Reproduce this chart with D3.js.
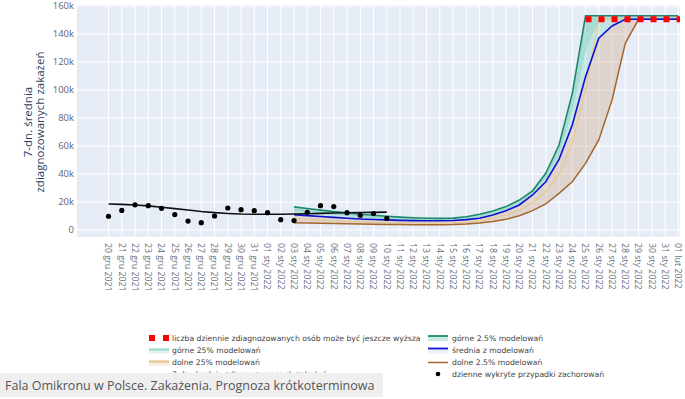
<!DOCTYPE html>
<html><head><meta charset="utf-8">
<script src="https://cdn.jsdelivr.net/npm/d3@7"></script>
<style>body{margin:0;background:#fff}svg{display:block}</style>
</head><body>
<svg id="c" width="685" height="399"></svg>
<script>
// ---------- data ----------
const startDate = "2021-12-20";
const endDate = "2022-02-01";
const monthNames = ["sty","lut","mar","kwi","maj","cze","lip","sie","wrz","paź","lis","gru"];
const yTicks = [0, 20000, 40000, 60000, 80000, 100000, 120000, 140000, 160000];
const yTickLabels = ["0","20k","40k","60k","80k","100k","120k","140k","160k"];

// observed (20 gru 2021 .. 10 sty 2022)
const dailyCases = [9800,14000,18000,17400,15500,11000,6400,5200,10000,15700,14500,13800,12400,7400,6700,12600,17400,16700,12400,10500,11700,8300];
const avg7 = [18600,18300,17900,17200,16200,15300,14300,13200,12400,11800,11400,11300,11300,11300,11400,11600,11900,12100,12300,12500,12600,12800];

// model (03 sty 2022 .. 01 lut 2022)
const modelStart = "2022-01-03";
const upper975 = [16500,15300,14200,13200,12200,11300,10500,9800,9200,8700,8400,8300,8500,9500,11200,13600,16700,21400,28000,40500,60700,97600,153000,153000,153000,153000,153000,153000,153000,153000];
const upper75 = [14000,13000,12000,11300,10500,9700,9000,8500,8000,7600,7400,7400,7600,8400,9600,12000,15000,19500,26500,37500,55000,87000,130000,150500,150500,150500,150500,150500,150500,150500];
const meanModel = [11000,10300,9600,9000,8400,7900,7500,7200,6900,6700,6600,6600,6800,7400,8400,10700,13800,17900,25000,34500,50500,75000,109500,137000,145700,150500,150500,150500,150500,150500];
const lower25 = [8000,7500,7000,6600,6200,5800,5500,5300,5100,5000,4900,4900,5100,5700,6500,8300,10700,14000,19500,27500,40000,62000,100000,150500,150500,150500,150500,150500,150500,150500];
const lower025 = [5200,5000,4800,4600,4400,4200,4100,4000,3900,3800,3800,3800,3900,4300,5000,6000,7600,10200,13800,18600,26200,34500,47600,64300,92900,133300,150500,150500,150500,150500];

// "may be even higher" marker (25 sty .. 01 lut)
const capStart = "2022-01-25";
const capValues = [150500,150500,150500,150500,150500,150500,150500,150500];

const legendCol1 = ["liczba dziennie zdiagnozowanych osób może być jeszcze wyższa","górne 25% modelowań","dolne 25% modelowań","7-dn. średnia zdiagnozowanych zakażeń"];
const legendCol2 = ["górne 2.5% modelowań","średnia z modelowań","dolne 2.5% modelowań","dzienne wykryte przypadki zachorowań"];
const yTitle = ["7-dn. średnia","zdiagnozowanych zakażeń"];
const caption = "Fala Omikronu w Polsce. Zakażenia. Prognoza krótkoterminowa";

// ---------- chart ----------
const parse = d3.utcParse("%Y-%m-%d");
const days = d3.utcDay.range(parse(startDate), d3.utcDay.offset(parse(endDate), 1));
const seq = (s, arr) => arr.map((v, i) => ({d: d3.utcDay.offset(parse(s), i), v}));
const fmt = d => d3.utcFormat("%d")(d) + " " + monthNames[d.getUTCMonth()] + " " + d.getUTCFullYear();

const L = 77, R = 680, T = 5, B = 237;
const DAY = 86400000;
const x = d3.scaleUtc()
  .domain([new Date(+parse(startDate) - 2.38 * DAY), new Date(+parse(endDate) + 0.13 * DAY)])
  .range([L, R]);
const y = d3.scaleLinear().domain([-5000, 160714]).range([B, T]);

const svg = d3.select("#c");
svg.append("defs").append("clipPath").attr("id", "clip")
  .append("rect").attr("x", L).attr("y", T).attr("width", R - L).attr("height", B - T);

svg.append("rect").attr("x", L).attr("y", T).attr("width", R - L).attr("height", B - T).attr("fill", "#e5ecf6");

// grid
const g = svg.append("g");
g.selectAll(".vg").data(days).join("line")
  .attr("x1", d => x(d)).attr("x2", d => x(d)).attr("y1", T).attr("y2", B)
  .attr("stroke", "#fff").attr("stroke-width", 1);
g.selectAll(".hg").data(yTicks).join("line")
  .attr("x1", L).attr("x2", R).attr("y1", d => y(d)).attr("y2", d => y(d))
  .attr("stroke", "#fff").attr("stroke-width", 1);

// y axis labels
svg.append("g").selectAll("text").data(yTicks).join("text")
  .attr("x", L - 3).attr("y", d => y(d)).attr("dy", "0.35em")
  .attr("text-anchor", "end").attr("font-family", "Open Sans, sans-serif").attr("font-size", 9.5)
  .attr("fill", "#5a6478").text((d, i) => yTickLabels[i]);

// x axis labels
svg.append("g").selectAll("text").data(days).join("text")
  .attr("transform", d => `translate(${x(d)},${B + 6}) rotate(90)`)
  .attr("dy", "0.35em").attr("text-anchor", "start")
  .attr("font-family", "Open Sans, sans-serif").attr("font-size", 8.8)
  .attr("fill", "#66707f").text(d => fmt(d));

// y title
const yt = svg.append("g").attr("transform", `translate(0,122) rotate(-90)`);
yt.selectAll("text").data(yTitle).join("text")
  .attr("x", 0).attr("y", (d, i) => 32 + i * 11.5)
  .attr("text-anchor", "middle").attr("font-family", "Open Sans, sans-serif").attr("font-size", 11.5)
  .attr("fill", "#2a3f5f").text(d => d);

// model bands
const plot = svg.append("g").attr("clip-path", "url(#clip)");
const mdates = upper975.map((v, i) => d3.utcDay.offset(parse(modelStart), i));
const band = (hi, lo) => d3.area().x((d, i) => x(mdates[i])).y0((d, i) => y(lo[i])).y1((d, i) => y(hi[i]))(hi);
plot.append("path").attr("d", band(upper975, meanModel)).attr("fill", "rgba(110,205,185,0.28)");
plot.append("path").attr("d", band(upper975, upper75)).attr("fill", "rgba(80,185,165,0.22)");
plot.append("path").attr("d", band(meanModel, lower025)).attr("fill", "rgba(205,170,135,0.35)");

const mline = d3.line().x((d, i) => x(mdates[i])).y(d => y(d));
plot.append("path").attr("d", mline(upper75)).attr("fill", "none").attr("stroke", "#9fdccf").attr("stroke-width", 1.2);
plot.append("path").attr("d", mline(lower25)).attr("fill", "none").attr("stroke", "#e6c891").attr("stroke-width", 1.2);
plot.append("path").attr("d", mline(lower025)).attr("fill", "none").attr("stroke", "#a5662b").attr("stroke-width", 1.5);
plot.append("path").attr("d", mline(meanModel)).attr("fill", "none").attr("stroke", "#1010d0").attr("stroke-width", 1.6);
plot.append("path").attr("d", mline(upper975)).attr("fill", "none").attr("stroke", "#1b8a6b").attr("stroke-width", 1.6);

// observed
const obsLine = d3.line().x(d => x(d.d)).y(d => y(d.v));
plot.append("path").attr("d", obsLine(seq(startDate, avg7))).attr("fill", "none").attr("stroke", "#111").attr("stroke-width", 1.6);
plot.append("g").selectAll("circle").data(seq(startDate, dailyCases)).join("circle")
  .attr("cx", d => x(d.d)).attr("cy", d => y(d.v)).attr("r", 2.6).attr("fill", "#000");

// red dashed cap
const capData = seq(capStart, capValues);
const capExt = capData.concat([{d: new Date(+capData[capData.length - 1].d + DAY), v: capValues[capValues.length - 1]}]);
plot.append("path").attr("d", obsLine(capExt)).attr("fill", "none")
  .attr("stroke", "#ff0000").attr("stroke-width", 6).attr("stroke-dasharray", "6,7");

// legend
const lg = svg.append("g").attr("font-family", "DejaVu Sans, Verdana, sans-serif").attr("font-size", 7.7).attr("fill", "#444");
const ly = [338, 350.5, 362.5, 374];
// col 1
lg.append("line").attr("x1", 149).attr("x2", 170).attr("y1", ly[0]).attr("y2", ly[0])
  .attr("stroke", "#ff0000").attr("stroke-width", 6).attr("stroke-dasharray", "6,8");
lg.append("rect").attr("x", 149).attr("y", ly[1] - 1).attr("width", 20).attr("height", 4).attr("fill", "rgba(160,220,207,0.35)");
lg.append("line").attr("x1", 149).attr("x2", 169).attr("y1", ly[1] - 1).attr("y2", ly[1] - 1).attr("stroke", "#9fdccf").attr("stroke-width", 2.2);
lg.append("rect").attr("x", 149).attr("y", ly[2] - 1).attr("width", 20).attr("height", 4).attr("fill", "rgba(230,200,145,0.35)");
lg.append("line").attr("x1", 149).attr("x2", 169).attr("y1", ly[2] - 1).attr("y2", ly[2] - 1).attr("stroke", "#e6c891").attr("stroke-width", 2.2);
lg.append("line").attr("x1", 149).attr("x2", 169).attr("y1", ly[3]).attr("y2", ly[3]).attr("stroke", "#111").attr("stroke-width", 1.6);
lg.selectAll(".t1").data(legendCol1).join("text").attr("x", 172).attr("y", (d, i) => ly[i]).attr("dy", "0.35em").text(d => d);
// col 2
lg.append("rect").attr("x", 428).attr("y", ly[0] - 2).attr("width", 20).attr("height", 5).attr("fill", "rgba(110,205,185,0.4)");
lg.append("line").attr("x1", 428).attr("x2", 448).attr("y1", ly[0] - 2).attr("y2", ly[0] - 2).attr("stroke", "#1b8a6b").attr("stroke-width", 1.8);
lg.append("rect").attr("x", 428).attr("y", ly[1] - 2).attr("width", 20).attr("height", 5).attr("fill", "rgba(205,210,240,0.35)");
lg.append("line").attr("x1", 428).attr("x2", 448).attr("y1", ly[1] - 2).attr("y2", ly[1] - 2).attr("stroke", "#1010d0").attr("stroke-width", 1.8);
lg.append("line").attr("x1", 428).attr("x2", 448).attr("y1", ly[2]).attr("y2", ly[2]).attr("stroke", "#a5662b").attr("stroke-width", 1.5);
lg.append("circle").attr("cx", 438).attr("cy", ly[3]).attr("r", 2.3).attr("fill", "#000");
lg.selectAll(".t2").data(legendCol2).join("text").attr("x", 452).attr("y", (d, i) => ly[i]).attr("dy", "0.35em").text(d => d);

// caption box
svg.append("rect").attr("x", 0).attr("y", 373).attr("width", 383).attr("height", 24).attr("fill", "#efefef");
svg.append("text").attr("x", 5).attr("y", 389.5).attr("font-family", "Open Sans, sans-serif")
  .attr("font-size", 12.5).attr("fill", "#555").text(caption);
</script>
</body></html>
